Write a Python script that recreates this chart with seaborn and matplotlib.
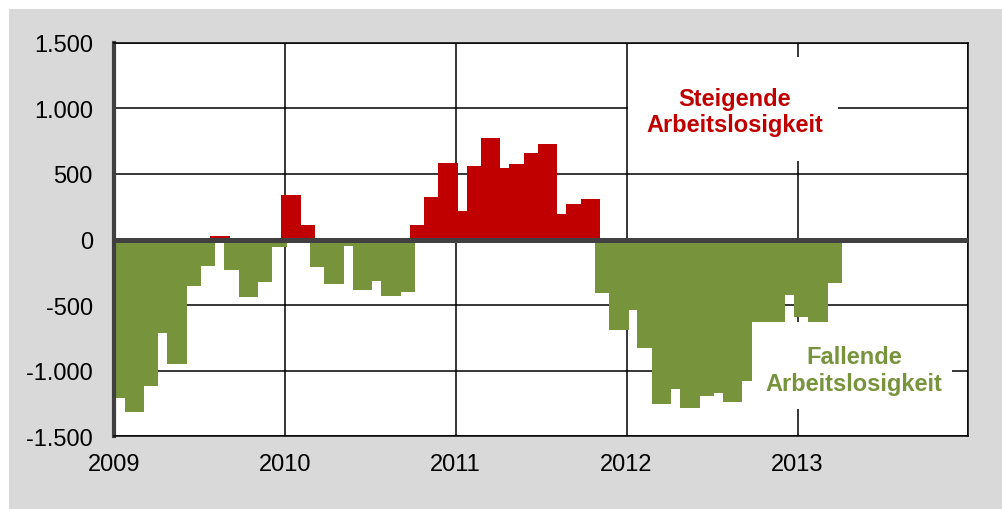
import matplotlib
matplotlib.use("Agg")
import matplotlib.pyplot as plt
from matplotlib.patches import Rectangle
import seaborn as sns
import pandas as pd

# monthly change, Jan 2009 - Mar 2013
months = pd.date_range("2009-01-01", periods=51, freq="MS")
values = [
    -1208, -1314, -1119, -712, -948, -356, -203, 30, -229, -440, -323, -60,   # 2009
    338, 109, -208, -338, -51, -381, -313, -430, -399, 112, 326, 585,         # 2010
    221, 557, 770, 542, 572, 661, 725, 191, 267, 310, -407, -686,             # 2011
    -541, -826, -1251, -1139, -1284, -1190, -1170, -1241, -1080, -950, -800, -420,  # 2012
    -590, -680, -330,                                                         # 2013
]
year_ticks = [2009, 2010, 2011, 2012, 2013, 2014]
year_labels = ["2009", "2010", "2011", "2012", "2013", ""]
y_ticks = [1500, 1000, 500, 0, -500, -1000, -1500]
y_labels = ["1.500", "1.000", "500", "0", "-500", "-1.000", "-1.500"]

RED = "#C00000"
GREEN = "#77933C"
DARK = "#404040"

df = pd.DataFrame({"date": months, "value": values})
df["x"] = df["date"].dt.year + (df["date"].dt.month - 1 + 0.45) / 12
df["richtung"] = ["steigend" if v > 0 else "fallend" for v in df["value"]]

plt.rcParams["font.family"] = ["Liberation Sans", "DejaVu Sans"]

fig = plt.figure(figsize=(10.03, 5.10), dpi=100, facecolor="white")
fig.patches.append(Rectangle((9 / 1003, 0), 1, 500 / 510, transform=fig.transFigure,
                             facecolor="#d9d9d9", edgecolor="none", zorder=-10))
ax = fig.add_axes([0.1134, 0.1425, 0.8522, 0.7718])
ax.set_facecolor("white")

sns.barplot(data=df, x="x", y="value", hue="richtung", native_scale=True,
            palette={"steigend": RED, "fallend": GREEN}, width=1.37,
            dodge=False, saturation=1, errorbar=None, linewidth=0,
            legend=False, ax=ax)

ax.set_xlim(2009, 2014)
ax.set_ylim(-1500, 1500)
ax.set_xticks(year_ticks)
ax.set_xticklabels(year_labels)
ax.set_yticks(y_ticks)
ax.set_yticklabels(y_labels)
ax.set_xlabel("")
ax.set_ylabel("")

ax.set_axisbelow(True)
ax.grid(True, color="black", linewidth=1.1)
ax.tick_params(axis="both", length=0, labelsize=17, colors="black")
ax.tick_params(axis="y", pad=15)
ax.tick_params(axis="x", pad=12)

for side in ["top", "right", "bottom"]:
    ax.spines[side].set_color("black")
    ax.spines[side].set_linewidth(1.1)
ax.spines["left"].set_color(DARK)
ax.spines["left"].set_linewidth(3)

ax.axhline(0, color=DARK, linewidth=3.6, zorder=3)

# label boxes (white, drawn over grid and bars)
ax.add_patch(Rectangle((0.6017, 0.6995), 0.2456, 0.2642, transform=ax.transAxes,
                       facecolor="white", edgecolor="none", zorder=4))
ax.text(0.7268, 0.8252, "Steigende\nArbeitslosigkeit", transform=ax.transAxes,
        ha="center", va="center", color=RED, fontsize=17, fontweight="bold",
        linespacing=1.2, zorder=5)

ax.add_patch(Rectangle((0.7473, 0.0694), 0.2330, 0.2210, transform=ax.transAxes,
                       facecolor="white", edgecolor="none", zorder=4))
ax.text(0.8661, 0.1684, "Fallende\nArbeitslosigkeit", transform=ax.transAxes,
        ha="center", va="center", color=GREEN, fontsize=17, fontweight="bold",
        linespacing=1.2, zorder=5)

fig.savefig("out.png", dpi=100, facecolor=fig.get_facecolor())
